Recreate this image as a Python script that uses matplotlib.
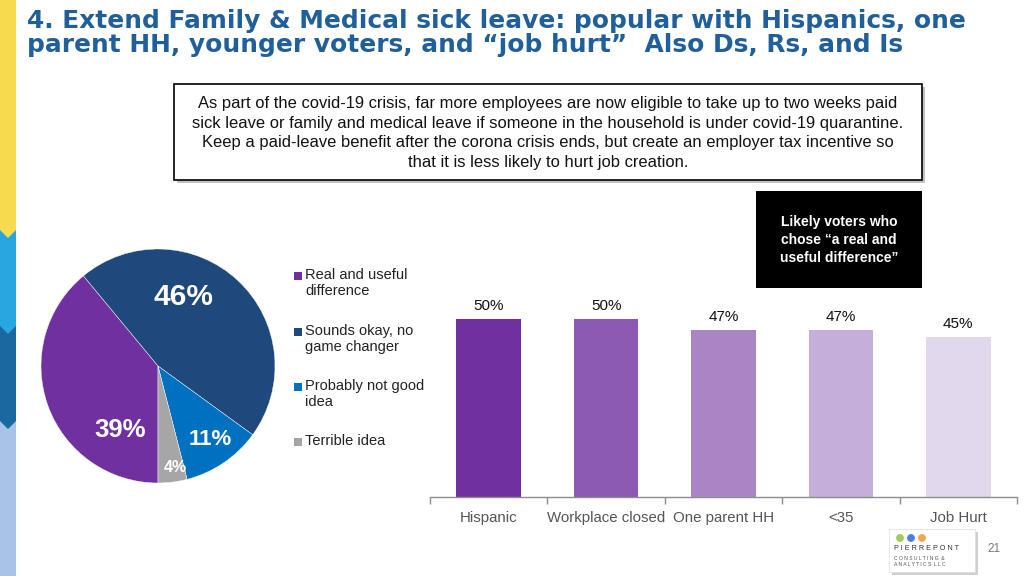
import matplotlib
matplotlib.use("Agg")
import matplotlib.pyplot as plt
from matplotlib.patches import Rectangle, Polygon
import numpy as np

# ---------------- data ----------------
pie_labels = ["Real and useful\ndifference", "Sounds okay, no\ngame changer",
              "Probably not good\nidea", "Terrible idea"]
pie_values = [39, 46, 11, 4]
pie_colors = ["#7030A0", "#1F497D", "#0070C0", "#A6A6A6"]

bar_categories = ["Hispanic", "Workplace closed", "One parent HH", "<35", "Job Hurt"]
bar_values = [50, 50, 47, 47, 45]
bar_colors = ["#7030A0", "#8C5AB3", "#A985C6", "#C5AED9", "#E1D8EE"]

title_lines = ["4. Extend Family & Medical sick leave: popular with Hispanics, one",
               "parent HH, younger voters, and \u201cjob hurt\u201d  Also Ds, Rs, and Is"]
box_text = ("As part of the covid-19 crisis, far more employees are now eligible to take up to two weeks paid\n"
            "sick leave or family and medical leave if someone in the household is under covid-19 quarantine.\n"
            "Keep a paid-leave benefit after the corona crisis ends, but create an employer tax incentive so\n"
            "that it is less likely to hurt job creation.")
black_box_text = "Likely voters who\nchose \u201ca real and\nuseful difference\u201d"

W, H = 1024, 576
plt.rcParams['font.family'] = ['Liberation Sans', 'DejaVu Sans']
fig = plt.figure(figsize=(W / 100, H / 100), dpi=100)
fig.patch.set_facecolor("white")

def fx(px):
    return px / W

def fy(py):
    return 1 - py / H

# ---------------- left decorative strip ----------------
deco = fig.add_axes([0, 0, 1, 1], zorder=0)
deco.set_xlim(0, W)
deco.set_ylim(H, 0)
deco.axis("off")
segs = [(0, 230, "#F8DA4E"), (230, 326, "#27A6DF"), (326, 421, "#1B679F"), (421, 576, "#A9C3E7")]
for i, (y0, y1, c) in enumerate(segs):
    deco.add_patch(Rectangle((0, y0), 16, y1 - y0, color=c, lw=0, zorder=1 + i))
    if i < len(segs) - 1:
        deco.add_patch(Polygon([(0, y1), (16, y1), (8, y1 + 8)], closed=True, color=c, lw=0, zorder=10 + i))

# ---------------- title ----------------
title_color = "#1F5F9B"
fig.text(fx(27), fy(21), title_lines[0], fontsize=17.9, fontweight="heavy",
         color=title_color, va="center", ha="left", family=["DejaVu Sans"])
fig.text(fx(27), fy(45), title_lines[1], fontsize=17.9, fontweight="heavy",
         color=title_color, va="center", ha="left", family=["DejaVu Sans"])

# ---------------- description box ----------------
deco.add_patch(Rectangle((177, 87), 748, 96, facecolor="#9a9a9a", edgecolor="none", alpha=0.6, zorder=20))
deco.add_patch(Rectangle((174, 84), 748, 96, facecolor="white", edgecolor="black", lw=1.2, zorder=21))
deco.text(548, 133, box_text, fontsize=11.9, ha="center", va="center",
          linespacing=1.4, color="#111111", zorder=22)

# ---------------- black box ----------------
deco.add_patch(Rectangle((756, 191), 166, 97, facecolor="black", edgecolor="none", zorder=20))
deco.text(839, 240, black_box_text, fontsize=10, fontweight="bold", color="white",
          ha="center", va="center", linespacing=1.35, zorder=22)

# ---------------- pie ----------------
cx, cy, r = 158, 366, 117
pax = fig.add_axes([fx(cx - r), fy(cy + r), (2 * r) / W, (2 * r) / H])
wedges, _ = pax.pie(pie_values, colors=pie_colors, startangle=270, counterclock=False,
                    wedgeprops=dict(linewidth=0.3, edgecolor="white"))
pax.set_xlim(-1, 1)
pax.set_ylim(-1, 1)
pax.set_aspect("equal")
pax.axis("off")

pie_text_pos = [(-0.32, -0.55, 18.5), (0.22, 0.59, 21.5), (0.45, -0.63, 16), (0.145, -0.87, 11.5)]
for v, (tx, ty, fs) in zip(pie_values, pie_text_pos):
    pax.text(tx, ty, f"{v}%", color="white", fontsize=fs, fontweight="bold",
             ha="center", va="center")

# ---------------- legend (manual) ----------------
leg_y = [276, 332, 387, 442]
for lab, c, y in zip(pie_labels, pie_colors, leg_y):
    deco.add_patch(Rectangle((294, y - 4), 8, 8, color=c, lw=0, zorder=20))
    deco.text(305, y - 8, lab, fontsize=10.5, color="#222222", ha="left", va="top",
              linespacing=1.2, zorder=22)

# ---------------- bar chart ----------------
base_px = 497
scale = 3.56  # px per percent
ymax = 60
bax = fig.add_axes([fx(430), fy(base_px), 587 / W, ymax * scale / H])
x = np.arange(len(bar_categories))
bars = bax.bar(x, bar_values, width=0.55, color=bar_colors, zorder=2)
bax.set_xlim(-0.5, len(bar_categories) - 0.5)
bax.set_ylim(0, ymax)
for s in ["top", "right", "left"]:
    bax.spines[s].set_visible(False)
bax.spines["bottom"].set_color("#8c8c8c")
bax.spines["bottom"].set_linewidth(1)
bax.set_yticks([])
bax.set_xticks(x)
bax.set_xticklabels(bar_categories, fontsize=10.8, color="#555555")
bax.tick_params(axis="x", which="major", length=0, pad=10)
bax.set_xticks(np.arange(-0.5, len(bar_categories), 1), minor=True)
bax.tick_params(axis="x", which="minor", length=5, color="#8c8c8c", width=1)
bax.patch.set_alpha(0)
for b, v in zip(bars, bar_values):
    bax.annotate(f"{v}%", (b.get_x() + b.get_width() / 2, v), xytext=(0, 4),
                 textcoords="offset points", ha="center", va="bottom",
                 fontsize=11, color="#111111")

# ---------------- logo & page number ----------------
deco.add_patch(Rectangle((892, 532), 86, 43, facecolor="#b0b0b0", edgecolor="none", alpha=0.6, zorder=20))
deco.add_patch(Rectangle((889, 529), 86, 43, facecolor="white", edgecolor="#dddddd", lw=0.5, zorder=21))
for dx, c in zip([0, 11, 22], ["#A3C95A", "#4A7EE6", "#F3A845"]):
    deco.add_patch(plt.Circle((900 + dx, 538), 3.2, color=c, zorder=22))
deco.text(894, 548, "P I E R R E P O N T", fontsize=5.2, color="#333333", ha="left",
          va="center", zorder=23)
deco.text(894, 558, "C O N S U L T I N G  &", fontsize=3.6, color="#555555", ha="left",
          va="center", zorder=23)
deco.text(894, 565, "A N A L Y T I C S  L L C", fontsize=3.6, color="#555555", ha="left",
          va="center", zorder=23)
deco.text(994, 549, "21", fontsize=8.5, color="#777777", ha="center", va="center", zorder=23)

fig.savefig("out.png", dpi=100)
